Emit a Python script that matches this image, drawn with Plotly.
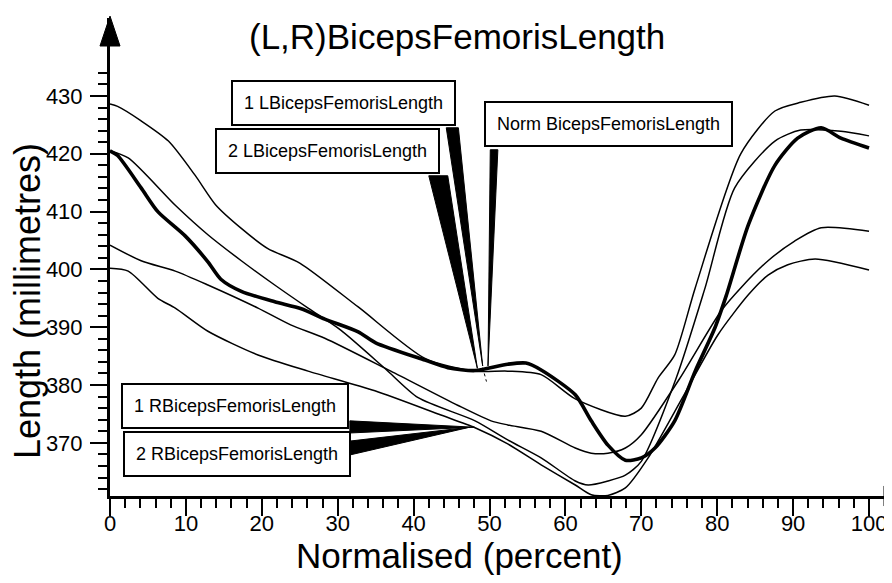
import plotly.graph_objects as go

# ---- data ----
x_1L = [0, 1, 4.1, 6.3, 9.9, 12.9, 14.6, 17.3, 21.7, 25.2, 28.3, 32.7, 35, 41.5, 44.5, 48.1, 52.4, 54.8, 56.8,
        61.3, 63.4, 65.6, 67.9, 70, 71.8, 74.4, 77.1, 79.7, 81.2, 84.1, 87.6, 90.6, 93.7, 96.3, 100]
y_1L = [420.5, 419.7, 414.1, 410, 405.8, 401.3, 398.3, 396.2, 394.4, 393.2, 391.4, 389.2, 387.3, 384.3, 383, 382.5,
        383.6, 383.8, 382.6, 378.3, 373.8, 369.6, 367, 367.4, 369.1, 373.8, 382.4, 389.9, 395.5, 407.7, 418, 422.7,
        424.5, 422.7, 421]

x_2L = [0, 1, 4.1, 7.7, 11.2, 13.9, 17.3, 20.8, 25, 32.7, 41.5, 48, 52.4, 56.8, 61.3, 67.9, 70, 72.2, 74.4, 77.1,
        83.1, 87.6, 91, 95.5, 100]
y_2L = [428.6, 428.2, 425.7, 422.2, 416.3, 411.2, 407.1, 403.6, 401.1, 393.5, 384.6, 382.4, 382.4, 381.8, 377.6,
        374.6, 376, 381.2, 385.2, 396.8, 420, 427.4, 428.9, 430, 428.4]

x_norm = [0, 2.4, 8.6, 12.9, 17.3, 21.7, 26.1, 30.4, 36.2, 40.6, 48.1, 52.4, 56.8, 61.3, 63, 65.6, 67.9, 70, 74.6,
          78.4, 82.3, 87.6, 91, 96.3, 100]
y_norm = [420.5, 419.3, 411.1, 406, 401.5, 397.3, 393.3, 389.5, 382.9, 377.8, 373.8, 370.5, 367.4, 363.4, 362.7,
          363.4, 364.4, 366.8, 381.2, 396.8, 414.1, 422.2, 424.1, 423.9, 423.1]

x_1R = [0, 4.1, 8.6, 12.9, 19.5, 23.8, 28.3, 37, 45.8, 50.2, 52.4, 56.8, 61.3, 63.4, 65.6, 67.9, 70, 75, 80.5, 83.1,
        86.7, 90.2, 93.7, 100]
y_1R = [404.2, 401.5, 399.7, 397.3, 393.3, 390.4, 388.1, 382.4, 376.5, 373.8, 373.1, 372, 369.1, 368.2, 368.2, 369.1,
        371.4, 381, 392.8, 396.8, 401.5, 404.9, 407.2, 406.6]

x_2R = [0, 2.4, 6.3, 8.6, 12.9, 19.5, 26.1, 34.9, 43.6, 48.1, 52.4, 56.8, 61.3, 63.4, 65.6, 67.9, 70.9, 75.5, 80.1,
        84.1, 86.7, 89.3, 92.9, 100]
y_2R = [400.2, 399.7, 395, 393.3, 389.3, 385.2, 382.4, 379, 374.8, 372.6, 369.8, 366.2, 362.7, 361, 360.9, 362.2,
        367.4, 378, 388.7, 395.6, 399, 400.8, 401.8, 399.9]

y_major = [370, 380, 390, 400, 410, 420, 430]
y_minor = [v for v in range(362, 436, 2) if v % 10 != 0]
x_major = [0, 10, 20, 30, 40, 50, 60, 70, 80, 90, 100]
x_minor = [v for v in range(2, 100, 2) if v % 10 != 0]

title_text = "(L,R)BicepsFemorisLength"
x_title = "Normalised (percent)"
y_title = "Length (millimetres)"

# callout labels: text, box centre (data), wedge base points (data), tip (data)
callouts = [
    ("1 LBicepsFemorisLength", 30.8, 428.8, [(44.3, 424.5), (45.9, 424.5)], (49.1, 383.3)),
    ("2 LBicepsFemorisLength", 28.66, 420.4, [(42.0, 416.2), (44.5, 416.2)], (48.4, 382.9)),
    ("Norm BicepsFemorisLength", 65.68, 425.07, [(50.1, 420.7), (51.1, 420.7)], (49.8, 383.3)),
    ("1 RBicepsFemorisLength", 16.53, 376.45, [(31.6, 373.8), (31.6, 371.7)], (48.0, 372.7)),
    ("2 RBicepsFemorisLength", 16.67, 368.14, [(31.6, 370.3), (31.6, 367.9)], (47.4, 372.7)),
]

series = [
    ("1 LBicepsFemorisLength", x_1L, y_1L, 3.6),
    ("2 LBicepsFemorisLength", x_2L, y_2L, 1.5),
    ("Norm BicepsFemorisLength", x_norm, y_norm, 1.5),
    ("1 RBicepsFemorisLength", x_1R, y_1R, 1.5),
    ("2 RBicepsFemorisLength", x_2R, y_2R, 1.5),
]

REG = "Liberation Sans, Arial, sans-serif"

fig = go.Figure()
for name, xs, ys, w in series:
    fig.add_trace(go.Scatter(x=xs, y=ys, mode="lines", name=name, hoverinfo="skip",
                             line=dict(color="black", width=w, shape="spline", smoothing=0.7)))

shapes = []
annotations = []
for text, bx, by, base, tip in callouts:
    (x0, y0), (x1, y1) = base
    shapes.append(dict(type="path", xref="x", yref="y",
                       path=f"M {x0},{y0} L {x1},{y1} L {tip[0]},{tip[1]} Z",
                       fillcolor="black", line=dict(color="black", width=1)))
    annotations.append(dict(x=bx, y=by, xref="x", yref="y", text=text, showarrow=False,
                            xanchor="center", yanchor="middle",
                            font=dict(family=REG, size=18, color="black"),
                            bgcolor="white", bordercolor="black", borderwidth=2, borderpad=11))

# dotted continuation of the first left pointer
shapes.append(dict(type="line", xref="x", yref="y", x0=49.1, y0=383.0, x1=49.6, y1=380.6,
                   line=dict(color="black", width=1, dash="dot")))

# axis arrow heads (paper coordinates)
shapes.append(dict(type="path", xref="paper", yref="paper",
                   path="M -0.0127,0.9414 L 0.0127,0.9414 L 0,1.004 Z",
                   fillcolor="black", line=dict(color="black", width=1)))
shapes.append(dict(type="path", xref="paper", yref="paper",
                   path="M 0.981,0.021 L 0.981,-0.021 L 1.001,0 Z",
                   fillcolor="black", line=dict(color="black", width=1)))

annotations.append(dict(x=(449 - 102) / 789, y=(488 - 28) / 478, xref="paper", yref="paper",
                        text=title_text, showarrow=False, xanchor="center", yanchor="middle",
                        font=dict(family=REG, size=35, color="black")))
annotations.append(dict(x=(451 - 102) / 789, y=(488 - 547) / 478, xref="paper", yref="paper",
                        text=x_title, showarrow=False, xanchor="center", yanchor="middle",
                        font=dict(family=REG, size=35, color="black")))
annotations.append(dict(x=(19 - 102) / 789, y=(488 - 293) / 478, xref="paper", yref="paper",
                        text=y_title, showarrow=False, xanchor="center", yanchor="middle", textangle=-90,
                        font=dict(family=REG, size=36, color="black")))

fig.update_layout(
    width=892, height=583,
    margin=dict(l=102, r=1, t=10, b=95),
    paper_bgcolor="white", plot_bgcolor="white",
    showlegend=False,
    shapes=shapes, annotations=annotations,
    xaxis=dict(range=[0, 103.95], showgrid=False, zeroline=False, showline=True, linecolor="black", linewidth=3,
               ticks="outside", ticklen=17, tickwidth=2, tickcolor="black",
               tickmode="array", tickvals=x_major, ticktext=[str(v) for v in x_major],
               tickfont=dict(family=REG, size=22, color="black"), ticklabelstandoff=-11,
               minor=dict(tickmode="array", tickvals=x_minor, ticks="outside", ticklen=9, tickwidth=2,
                          tickcolor="black", showgrid=False)),
    yaxis=dict(range=[360.8, 443.49], showgrid=False, zeroline=False, showline=True, linecolor="black", linewidth=3,
               ticks="outside", ticklen=17, tickwidth=2, tickcolor="black",
               tickmode="array", tickvals=y_major, ticktext=[str(v) for v in y_major],
               tickfont=dict(family=REG, size=22, color="black"), ticklabelstandoff=3,
               minor=dict(tickmode="array", tickvals=y_minor, ticks="outside", ticklen=9, tickwidth=2,
                          tickcolor="black", showgrid=False)),
)

fig.write_html("out.html")
